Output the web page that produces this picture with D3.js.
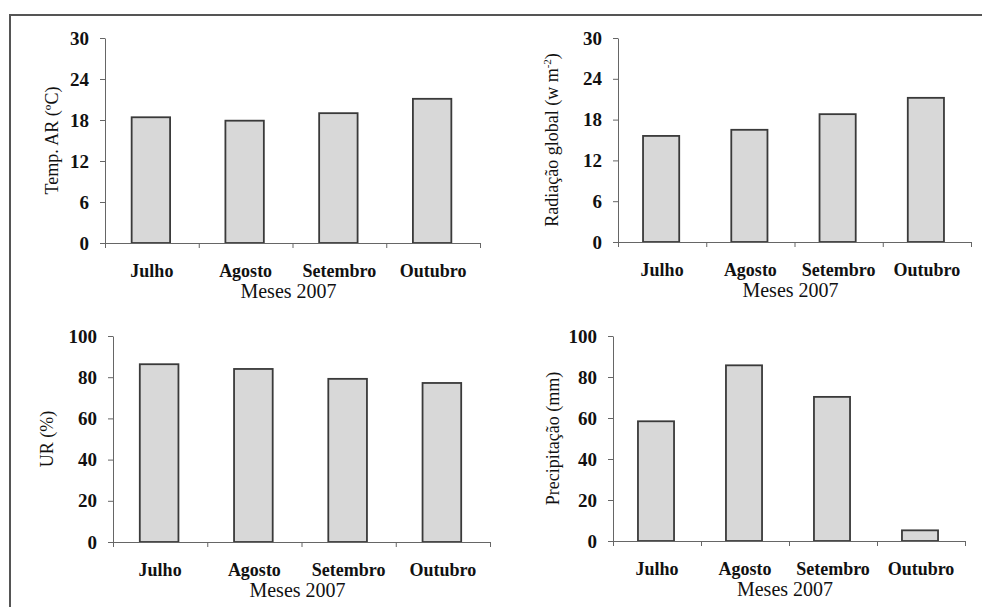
<!DOCTYPE html>
<html>
<head>
<meta charset="utf-8">
<script src="https://cdn.jsdelivr.net/npm/d3@7"></script>
<style>
  body { margin: 0; background: #fff; }
  svg { display: block; }
</style>
</head>
<body>
<div id="chart"></div>
<script>
// page size
let width = 982;
let height = 607;
let serif = "'Liberation Serif', 'Times New Roman', Times, 'DejaVu Serif', serif";

// data
const months = ["Julho", "Agosto", "Setembro", "Outubro"];
const tempAr = [18.4, 17.9, 19.0, 21.1];
const radiacao = [15.6, 16.5, 18.8, 21.2];
const umidade = [86.3, 84.0, 79.2, 77.2];
const precipitacao = [58.4, 85.7, 70.3, 5.2];
const ticks30 = [0, 6, 12, 18, 24, 30];
const ticks100 = [0, 20, 40, 60, 80, 100];
const xTitle = "Meses 2007";

// one entry per panel: where its axes sit
let panels = [
    {values: tempAr, ticks: ticks30, label: ["Temp. AR (ºC)"],
     x0: 105, x1: 480, top: 38, bottom: 243, labelX: 58},
    {values: radiacao, ticks: ticks30, label: ["Radiação global (w m", "-2", ")"],
     x0: 618, x1: 971, top: 38, bottom: 242, labelX: 558},
    {values: umidade, ticks: ticks100, label: ["UR (%)"],
     x0: 113, x1: 490, top: 336, bottom: 542, labelX: 53},
    {values: precipitacao, ticks: ticks100, label: ["Precipitação (mm)"],
     x0: 613, x1: 965, top: 336, bottom: 541, labelX: 559},
]

function drawPanel(svg, p) {
    let g = svg.append('g');
    let x = d3.scaleBand().domain(months).range([p.x0, p.x1]).padding(0);
    let edges = d3.scaleLinear().domain([0, months.length]).range([p.x0, p.x1]);
    let y = d3.scaleLinear().domain([0, d3.max(p.ticks)]).range([p.bottom, p.top]);
    let barW = x.bandwidth() * 0.41;

    // bars
    g.append('g')
        .selectAll('rect')
        .data(p.values)
        .enter().append('rect')
        .attr('x', (d, i) => x(months[i]) + x.bandwidth() / 2 - barW / 2 - 1)
        .attr('y', d => y(d))
        .attr('width', barW)
        .attr('height', d => y(0) - y(d))
        .attr('fill', '#d8d8d8')
        .attr('stroke', '#3a3a3a')
        .attr('stroke-width', 1.8);

    // y axis
    let yAxis = g.append('g')
        .attr('transform', `translate(${p.x0},0)`)
        .call(d3.axisLeft(y).tickValues(p.ticks).tickSize(5).tickSizeOuter(0).tickPadding(11))
        .attr('font-family', serif);
    yAxis.select('.domain').attr('stroke', '#666');
    yAxis.selectAll('.tick line').attr('stroke', '#666');
    yAxis.selectAll('text')
        .style('font-family', serif)
        .style('font-size', '19px')
        .style('font-weight', 'bold')
        .attr('fill', '#111');

    // x axis: ticks between categories, no labels
    let xAxis = g.append('g')
        .attr('transform', `translate(0,${p.bottom})`)
        .call(d3.axisBottom(edges).tickValues(d3.range(months.length + 1)).tickFormat('').tickSize(5).tickSizeOuter(0));
    xAxis.select('.domain').attr('stroke', '#666');
    xAxis.selectAll('.tick line').attr('stroke', '#666');

    // category names
    g.append('g')
        .selectAll('text')
        .data(months)
        .enter().append('text')
        .attr('x', d => x(d) + x.bandwidth() / 2)
        .attr('y', p.bottom + 34)
        .attr('text-anchor', 'middle')
        .attr('fill', '#111')
        .style('font-family', serif)
        .style('font-size', '18px')
        .style('font-weight', 'bold')
        .text(d => d);

    g.append('text')
        .attr('x', (p.x0 + p.x1) / 2 - 4)
        .attr('y', p.bottom + 55)
        .attr('text-anchor', 'middle')
        .attr('fill', '#111')
        .style('font-family', serif)
        .style('font-size', '20px')
        .text(xTitle);

    // y title, rotated
    let t = g.append('text')
        .attr('transform', `translate(${p.labelX},${(p.top + p.bottom) / 2}) rotate(-90)`)
        .attr('text-anchor', 'middle')
        .attr('fill', '#111')
        .style('font-family', serif)
        .style('font-size', '18px');
    t.append('tspan').text(p.label[0]);
    if (p.label.length > 1) {
        t.append('tspan').attr('dy', -7).style('font-size', '11px').text(p.label[1]);
        t.append('tspan').attr('dy', 7).text(p.label[2]);
    }
}

let svg = d3.select('#chart').append('svg')
    .attr('width', width)
    .attr('height', height);

// scanned frame: top and left edges only
svg.append('path')
    .attr('d', `M10,${height} V15 H${width}`)
    .attr('fill', 'none')
    .attr('stroke', '#555')
    .attr('stroke-width', 2);

for (let p of panels) drawPanel(svg, p);
</script>
</body>
</html>
